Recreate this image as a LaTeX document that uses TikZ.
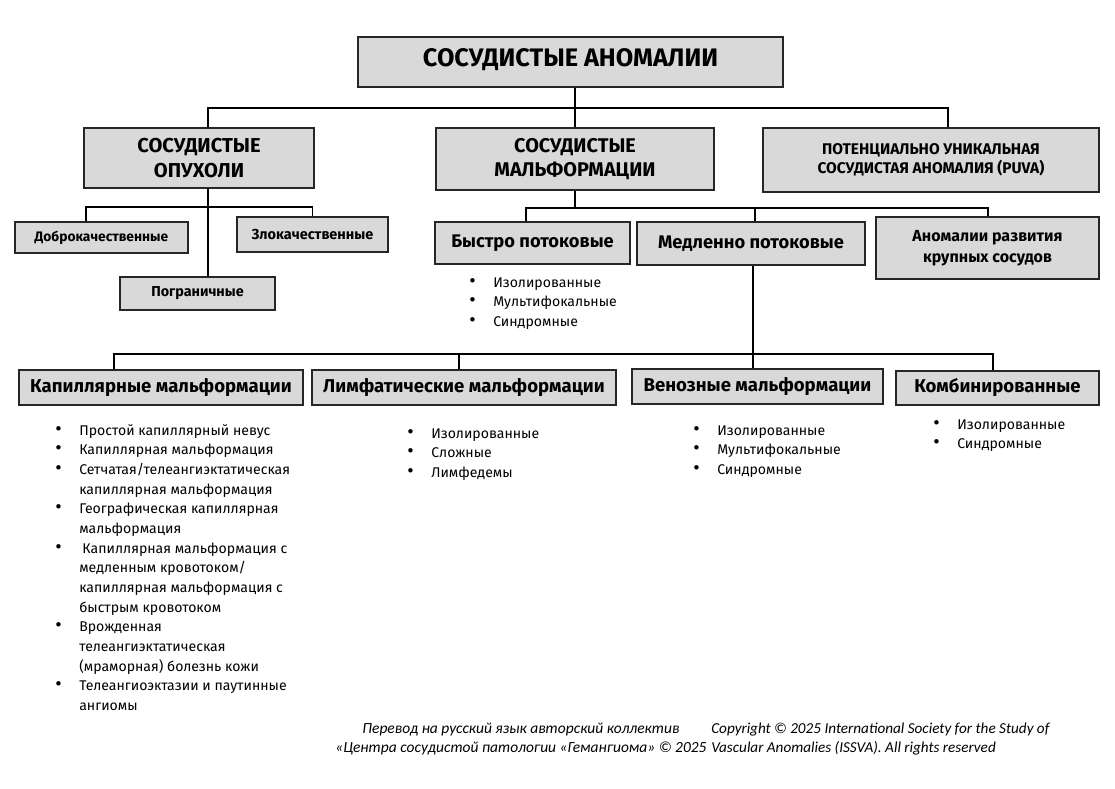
\documentclass[tikz,border=0pt]{standalone}
\usepackage{fontspec}
\setmainfont{Fira Sans}
\newfontfamily\footfont{Carlito}
\definecolor{boxgray}{HTML}{D9D9D9}
\newcommand{\bul}{{\fontsize{14}{14}\selectfont\textbullet}}
\tikzset{
	box/.style={draw=black!85, line width=1.1pt, fill=boxgray, inner sep=2pt, align=center},
	link/.style={line width=1.4pt},
	blist/.style={anchor=base west, inner sep=0pt, font=\fontsize{10}{14}\selectfont},
}
\begin{document}
\begin{tikzpicture}[x=0.025cm, y=-0.025cm]
	\fill[white] (0, 0) rectangle (1115, 788);
	\useasboundingbox (0, 0) rectangle (1115, 788);
	% top level
	\node[box, minimum width=10.625cm, minimum height=1.25cm, text depth=0.2cm, font=\bfseries\fontsize{18}{20}\selectfont] (anom) at (570.5, 62) {СОСУДИСТЫЕ АНОМАЛИИ};
	\node[box, minimum width=5.75cm, minimum height=1.5cm, font=\bfseries\fontsize{14.3}{17.5}\selectfont] (tumors) at (199, 158) {СОСУДИСТЫЕ\\ОПУХОЛИ};
	\node[box, minimum width=6.95cm, minimum height=1.55cm, font=\bfseries\fontsize{14.1}{17.5}\selectfont] (malf) at (575, 159) {СОСУДИСТЫЕ\\МАЛЬФОРМАЦИИ};
	\node[box, minimum width=8.4cm, minimum height=1.6cm, font=\bfseries\fontsize{11}{13.5}\selectfont] (puva) at (931, 160) {ПОТЕНЦИАЛЬНО УНИКАЛЬНАЯ\\СОСУДИСТАЯ АНОМАЛИЯ (PUVA)};
	% tumors
	\node[box, minimum width=4.325cm, minimum height=0.775cm, font=\bfseries\fontsize{9.8}{12}\selectfont] (benign) at (101.5, 237.5) {Доброкачественные};
	\node[box, minimum width=3.775cm, minimum height=0.875cm, font=\bfseries\fontsize{10.3}{12}\selectfont] (malign) at (312.5, 234.5) {Злокачественные};
	\node[box, minimum width=3.875cm, minimum height=0.825cm, font=\bfseries\fontsize{10.2}{12}\selectfont] (border) at (197.5, 293.5) {Пограничные};
	% malformations
	\node[box, minimum width=4.875cm, minimum height=1.05cm, font=\bfseries\fontsize{13}{14}\selectfont] (fast) at (532.5, 243) {Быстро потоковые};
	\node[box, minimum width=5.7cm, minimum height=1.075cm, font=\bfseries\fontsize{13}{14}\selectfont] (slow) at (751, 243.5) {Медленно потоковые};
	\node[box, minimum width=5.575cm, minimum height=1.55cm, font=\bfseries\fontsize{11.4}{15}\selectfont] (great) at (987.5, 248) {Аномалии развития\\крупных сосудов};
	% slow flow
	\node[box, minimum width=7.1cm, minimum height=0.875cm, font=\bfseries\fontsize{13.2}{15}\selectfont] (cap) at (161, 387.5) {Капиллярные мальформации};
	\node[box, minimum width=7.6cm, minimum height=0.875cm, font=\bfseries\fontsize{13.2}{15}\selectfont] (lymph) at (464, 387.5) {Лимфатические мальформации};
	\node[box, minimum width=6.275cm, minimum height=0.875cm, font=\bfseries\fontsize{13.2}{15}\selectfont] (ven) at (757.5, 386.5) {Венозные мальформации};
	\node[box, minimum width=5.075cm, minimum height=0.85cm, font=\bfseries\fontsize{13.2}{15}\selectfont] (comb) at (997.5, 388) {Комбинированные};

	% connectors, level 1
	\coordinate (bus1) at (0, 108);
	\coordinate (tumIn) at ([xshift=0.225cm]tumors.north);
	\coordinate (puvaIn) at ([xshift=0.425cm]puva.north);
	\draw[link] (anom.south -| malf.north) -- (malf.north);
	\draw[link] (tumIn) |- (bus1 -| puvaIn) -- (puvaIn);
	% connectors, tumors
	\coordinate (bus2) at (0, 207);
	\coordinate (tumOut) at ([xshift=0.225cm]tumors.south);
	\coordinate (benIn) at ([xshift=-0.3875cm]benign.north);
	\draw[link] (tumOut) -- (tumOut |- border.north);
	\draw[link] (benIn) |- (bus2 -| malign.north) -- (malign.north);
	% connectors, malformations
	\coordinate (bus3) at (0, 208);
	\coordinate (fastIn) at ([xshift=-0.1625cm]fast.north);
	\coordinate (slowIn) at ([xshift=0.1cm]slow.north);
	\draw[link] (malf.south) -- (malf.south |- bus3);
	\draw[link] (fastIn) |- (bus3 -| great.north) -- (great.north);
	\draw[link] (slowIn) -- (slowIn |- bus3);
	% connectors, slow flow
	\coordinate (bus4) at (0, 354);
	\coordinate (slowOut) at ([xshift=0.05cm]slow.south);
	\coordinate (capIn) at ([xshift=-1.175cm]cap.north);
	\coordinate (combIn) at ([xshift=-0.1125cm]comb.north);
	\draw[link] (slowOut) -- (slowOut |- ven.north);
	\draw[link] (capIn) |- (bus4 -| combIn) -- (combIn);
	\draw[link] ([xshift=-0.125cm]lymph.north) -- ([xshift=-0.125cm]lymph.north |- bus4);

	% lists
	\node[blist] (fastlist) at (469, 287) {\begin{tabular}[t]{@{}p{0.6cm}@{}l@{}}
		\bul & Изолированные\\
		\bul & Мультифокальные\\
		\bul & Синдромные
	\end{tabular}};
	\node[blist] (caplist) at (55, 435) {\begin{tabular}[t]{@{}p{0.6cm}@{}l@{}}
		\bul & Простой капиллярный невус\\
		\bul & Капиллярная мальформация\\
		\bul & Сетчатая/телеангиэктатическая\\
		 & капиллярная мальформация\\
		\bul & Географическая капиллярная\\
		 & мальформация\\
		\bul & \hspace{0.08cm}Капиллярная мальформация с\\
		 & медленным кровотоком/\\
		 & капиллярная мальформация с\\
		 & быстрым кровотоком\\
		\bul & Врожденная\\
		 & телеангиэктатическая\\
		 & (мраморная) болезнь кожи\\
		\bul & Телеангиоэктазии и паутинные\\
		 & ангиомы
	\end{tabular}};
	\node[blist] (lymphlist) at (407, 438) {\begin{tabular}[t]{@{}p{0.6cm}@{}l@{}}
		\bul & Изолированные\\
		\bul & Сложные\\
		\bul & Лимфедемы
	\end{tabular}};
	\node[blist] (venlist) at (693, 435) {\begin{tabular}[t]{@{}p{0.6cm}@{}l@{}}
		\bul & Изолированные\\
		\bul & Мультифокальные\\
		\bul & Синдромные
	\end{tabular}};
	\node[blist] (comblist) at (933, 429) {\begin{tabular}[t]{@{}p{0.6cm}@{}l@{}}
		\bul & Изолированные\\
		\bul & Синдромные
	\end{tabular}};

	% footer
	\node[anchor=base, inner sep=0pt, font=\footfont\itshape\fontsize{11}{14}\selectfont] (transl) at (521, 733) {\begin{tabular}[t]{@{}c@{}}
		Перевод на русский язык авторский коллектив\\
		«Центра сосудистой патологии «Гемангиома» © 2025
	\end{tabular}};
	\node[blist, font=\footfont\itshape\fontsize{10.8}{14}\selectfont] (copyr) at (711, 733) {\begin{tabular}[t]{@{}l@{}}
		Copyright © 2025 International Society for the Study of\\
		Vascular Anomalies (ISSVA). All rights reserved
	\end{tabular}};
\end{tikzpicture}
\end{document}
